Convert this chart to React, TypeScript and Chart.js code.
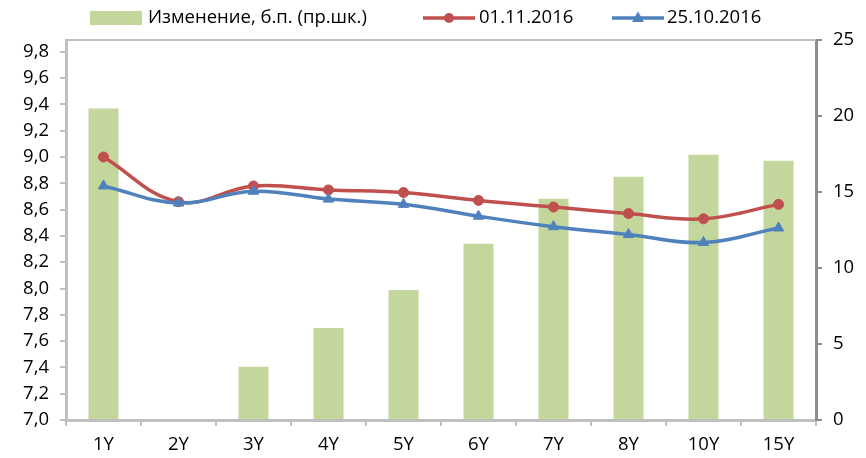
import React, { useEffect, useRef } from 'react';
import { Chart, registerables } from 'chart.js';

Chart.register(...registerables);

const categories = ['1Y', '2Y', '3Y', '4Y', '5Y', '6Y', '7Y', '8Y', '10Y', '15Y'];
const changeBp = [20.5, 0, 3.5, 6.05, 8.55, 11.6, 14.55, 16.0, 17.45, 17.05];
const yields0111 = [9.0, 8.66, 8.78, 8.75, 8.73, 8.67, 8.62, 8.57, 8.53, 8.64];
const yields2510 = [8.78, 8.65, 8.74, 8.68, 8.64, 8.55, 8.47, 8.41, 8.35, 8.46];
const leftTicks = [7.0, 7.2, 7.4, 7.6, 7.8, 8.0, 8.2, 8.4, 8.6, 8.8, 9.0, 9.2, 9.4, 9.6, 9.8];
const rightTicks = [0, 5, 10, 15, 20, 25];
const seriesLabels = ['Изменение, б.п. (пр.шк.)', '01.11.2016', '25.10.2016'];

const BAR = '#C3D69B';
const RED = '#C0504D';
const BLUE = '#4F81BD';
const AXIS = '#BFBFBF';
const AXIS_R = '#8C8C8C';
const FONT = '"Open Sans", "DejaVu Sans", sans-serif';

const customLegend = {
  id: 'customLegend',
  afterDraw(chart: any) {
    const ctx = chart.ctx;
    const ds = chart.data.datasets;
    const y = 18;
    ctx.save();
    ctx.font = `18.5px ${FONT}`;
    ctx.textBaseline = 'middle';
    ctx.textAlign = 'left';
    ctx.fillStyle = BAR;
    ctx.fillRect(90, 11, 52, 14);
    ctx.fillStyle = '#000';
    ctx.fillText(ds[0].label, 148, y);
    const drawLine = (x0: number, color: string, marker: string) => {
      ctx.strokeStyle = color;
      ctx.lineWidth = 3.5;
      ctx.beginPath();
      ctx.moveTo(x0, y);
      ctx.lineTo(x0 + 52, y);
      ctx.stroke();
      ctx.fillStyle = color;
      const cx = x0 + 26;
      ctx.beginPath();
      if (marker === 'circle') {
        ctx.arc(cx, y, 5, 0, Math.PI * 2);
      } else {
        ctx.moveTo(cx, y - 6.5);
        ctx.lineTo(cx + 6, y + 4);
        ctx.lineTo(cx - 6, y + 4);
        ctx.closePath();
      }
      ctx.fill();
    };
    drawLine(423, RED, 'circle');
    ctx.fillStyle = '#000';
    ctx.fillText(ds[1].label, 479, y);
    drawLine(612, BLUE, 'triangle');
    ctx.fillStyle = '#000';
    ctx.fillText(ds[2].label, 667, y);
    ctx.restore();
  },
};

const topBorder = {
  id: 'topBorder',
  beforeDatasetsDraw(chart: any) {
    const { ctx, chartArea } = chart;
    ctx.save();
    ctx.strokeStyle = AXIS;
    ctx.lineWidth = 2;
    ctx.beginPath();
    ctx.moveTo(chartArea.left, chartArea.top);
    ctx.lineTo(chartArea.right, chartArea.top);
    ctx.stroke();
    ctx.restore();
  },
};

export default function App() {
  const ref = useRef<HTMLCanvasElement>(null);

  useEffect(() => {
    if (!ref.current) return;
    const chart = new Chart(ref.current, {
      type: 'bar',
      data: {
        labels: categories,
        datasets: [
          {
            type: 'bar',
            label: seriesLabels[0],
            data: changeBp,
            backgroundColor: BAR,
            borderWidth: 0,
            yAxisID: 'y1',
            barPercentage: 0.4,
            categoryPercentage: 1,
            order: 3,
          } as any,
          {
            type: 'line',
            label: seriesLabels[1],
            data: yields0111,
            borderColor: RED,
            backgroundColor: RED,
            borderWidth: 3.5,
            pointStyle: 'circle',
            pointRadius: 5,
            pointBorderWidth: 1,
            tension: 0.4,
            yAxisID: 'y',
            order: 2,
          },
          {
            type: 'line',
            label: seriesLabels[2],
            data: yields2510,
            borderColor: BLUE,
            backgroundColor: BLUE,
            borderWidth: 3.5,
            pointStyle: 'triangle',
            pointRadius: 6,
            pointBorderWidth: 1,
            tension: 0.4,
            yAxisID: 'y',
            order: 1,
          },
        ],
      },
      options: {
        responsive: false,
        animation: false,
        layout: { padding: { top: 40, left: 0, right: 0, bottom: 0 } },
        plugins: {
          legend: { display: false },
          tooltip: { enabled: false },
        },
        scales: {
          x: {
            offset: true,
            grid: {
              display: true,
              offset: true,
              drawOnChartArea: false,
              drawTicks: true,
              tickLength: 6,
              color: AXIS,
              lineWidth: 2,
            },
            border: { display: true, color: AXIS, width: 3 },
            ticks: { font: { family: FONT, size: 18.5 }, color: '#000', padding: 8, maxRotation: 0 },
            afterFit: (s: any) => { s.height = 38; },
          },
          y: {
            position: 'left',
            min: 7,
            max: 9.89,
            afterBuildTicks: (s: any) => { s.ticks = leftTicks.map((v) => ({ value: v })); },
            grid: {
              drawOnChartArea: false,
              drawTicks: true,
              tickLength: 6,
              color: AXIS,
              lineWidth: 2,
            },
            border: { display: true, color: AXIS, width: 3 },
            ticks: {
              font: { family: FONT, size: 18.5 },
              color: '#000',
              padding: 11,
              callback: (v: any) => Number(v).toFixed(1).replace('.', ','),
            },
            afterFit: (s: any) => { s.width = 66; },
          },
          y1: {
            position: 'right',
            min: 0,
            max: 25,
            afterBuildTicks: (s: any) => { s.ticks = rightTicks.map((v) => ({ value: v })); },
            grid: {
              drawOnChartArea: false,
              drawTicks: true,
              tickLength: 6,
              color: AXIS_R,
              lineWidth: 2,
            },
            border: { display: true, color: AXIS_R, width: 3 },
            ticks: { font: { family: FONT, size: 18.5 }, color: '#000', padding: 11 },
            afterFit: (s: any) => { s.width = 50; },
          },
        },
      },
      plugins: [customLegend, topBorder],
    });
    return () => chart.destroy();
  }, []);

  return (
    <div style={{ position: 'fixed', left: 0, top: 0, width: 866, height: 458, background: '#fff' }}>
      <canvas ref={ref} width={866} height={458} />
    </div>
  );
}
